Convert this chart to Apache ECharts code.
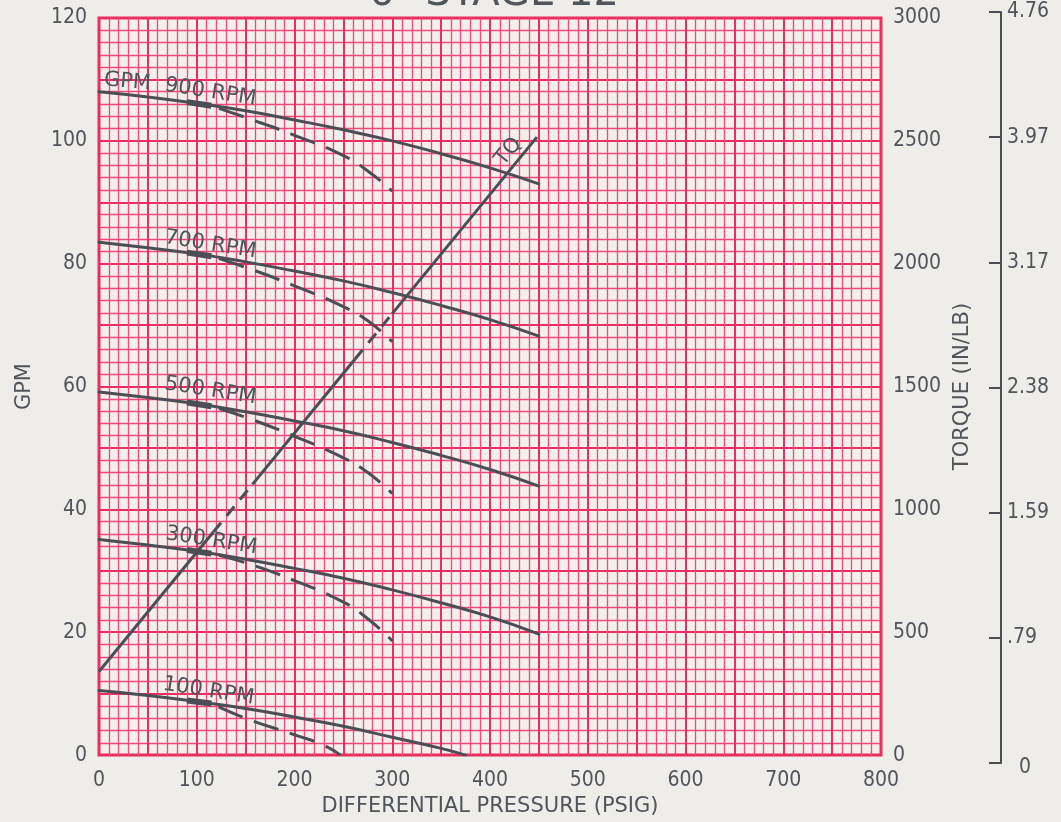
<!DOCTYPE html>
<html>
<head>
<meta charset="utf-8">
<title>6" Stage 12 pump curves</title>
<script src="https://cdn.jsdelivr.net/npm/echarts@6/dist/echarts.min.js"></script>
<style>
  html, body { margin: 0; padding: 0; background: #efedea; }
  #chart { width: 1061px; height: 822px; }
</style>
</head>
<body>
<div id="chart"></div>
<script>
// Differential pressure (PSIG) sample points for the solid GPM curves
const pressure = [0, 50, 100, 150, 200, 250, 300, 350, 400, 450];
const gpm900 = [108.0, 107.15, 106.1, 104.9, 103.4, 101.8, 100.0, 97.9, 95.6, 93.0];
const gpm700 = [83.5, 82.6, 81.6, 80.3, 78.8, 77.2, 75.3, 73.2, 70.9, 68.2];
const gpm500 = [59.1, 58.2, 57.2, 55.9, 54.4, 52.8, 50.9, 48.8, 46.5, 43.8];
const gpm300 = [35.1, 34.2, 33.2, 31.9, 30.4, 28.8, 26.9, 24.8, 22.5, 19.7];
// 100 RPM runs out of flow before 450 PSIG
const pressure100 = [0, 50, 100, 150, 200, 250, 300, 350, 375];
const gpm100 = [10.5, 9.7, 8.7, 7.6, 6.2, 4.7, 2.9, 1.1, 0.0];

// Dashed branches
const dashPressure = [115, 150, 200, 250, 275, 300];
const dash900 = [105.7, 103.8, 100.9, 97.6, 95.1, 91.8];
const dash700 = [81.2, 79.4, 76.4, 73.0, 70.7, 67.3];
const dash500 = [56.8, 55.0, 51.9, 48.4, 46.0, 42.6];
const dash300 = [32.8, 31.3, 28.4, 24.9, 22.2, 18.6];
const dashPressure100 = [115, 150, 200, 230, 247];
const dash100 = [8.4, 6.0, 3.3, 1.6, 0.0];

// Short heavy strokes where the dashed branches leave the solid curves
const heavyPressure = [90, 115];
const heavy900 = [106.3, 105.7];
const heavy700 = [81.8, 81.2];
const heavy500 = [57.4, 56.8];
const heavy300 = [33.4, 32.8];
const heavy100 = [8.9, 8.4];

// Torque line (IN/LB), drawn in pieces: solid / dashed / solid / dashed / solid
const tqPressure = [0, 117, 157, 262, 300, 448];
const tqTorque = [340, 908, 1102, 1612, 1797, 2515];

// Curve labels: [pressure, gpm, text, rotation]
const curveLabels = [
  [29, 109.6, 'GPM', -5],
  [114, 107.9, '900 RPM', -9],
  [114, 83.1, '700 RPM', -9],
  [114, 59.3, '500 RPM', -9],
  [115, 34.9, '300 RPM', -9],
  [112, 10.4, '100 RPM', -9]
];
const tqLabel = [419, 2456, 'TQ', 51];

// Outer scale tick labels
const outerTicks = ['0', '.79', '1.59', '2.38', '3.17', '3.97', '4.76'];
const outerMax = 4.76;

const INK = '#4b4f55';
const PINK = '#ea2f60';
const PINK_MINOR = '#f0497a';
const TICK_FONT = "'DejaVu Sans Condensed', 'DejaVu Sans', sans-serif";
const FONT = "'DejaVu Sans', sans-serif";
const TEXT = '#50555b';

function zip(xs, ys) { return xs.map((x, i) => [x, ys[i]]); }

function solid(xs, ys) {
  return {
    type: 'line', xAxisIndex: 0, yAxisIndex: 0,
    data: zip(xs, ys), showSymbol: false, smooth: 0.5, silent: true,
    lineStyle: { color: INK, width: 3, cap: 'round' }, z: 5
  };
}
function dashed(xs, ys, dash) {
  return {
    type: 'line', xAxisIndex: 0, yAxisIndex: 0,
    data: zip(xs, ys), showSymbol: false, smooth: 0.5, silent: true,
    lineStyle: { color: INK, width: 3, type: dash, dashOffset: -8 }, z: 5
  };
}
function heavy(xs, ys) {
  return {
    type: 'line', xAxisIndex: 0, yAxisIndex: 0,
    data: zip(xs, ys), showSymbol: false, silent: true,
    lineStyle: { color: INK, width: 6 }, z: 6
  };
}

const series = [
  solid(pressure, gpm900), solid(pressure, gpm700), solid(pressure, gpm500),
  solid(pressure, gpm300), solid(pressure100, gpm100),
  dashed(dashPressure, dash900, [26, 12]), dashed(dashPressure, dash700, [26, 12]),
  dashed(dashPressure, dash500, [26, 12]), dashed(dashPressure, dash300, [26, 12]),
  dashed(dashPressure100, dash100, [26, 12]),
  heavy(heavyPressure, heavy900), heavy(heavyPressure, heavy700), heavy(heavyPressure, heavy500),
  heavy(heavyPressure, heavy300), heavy(heavyPressure, heavy100)
];

// torque line pieces
for (let i = 0; i < tqPressure.length - 1; i++) {
  const seg = [[tqPressure[i], tqTorque[i]], [tqPressure[i + 1], tqTorque[i + 1]]];
  series.push({
    type: 'line', xAxisIndex: 0, yAxisIndex: 1, data: seg, showSymbol: false, silent: true,
    lineStyle: { color: INK, width: 3, type: i % 2 === 1 ? [12, 9] : 'solid' }, z: 5
  });
}

function textLabel(text, rot) {
  return { show: true, position: 'inside', formatter: text, rotate: rot,
           fontFamily: FONT, fontSize: 21, color: TEXT, opacity: 1 };
}

// text labels along the curves
series.push({
  type: 'scatter', xAxisIndex: 0, yAxisIndex: 0, symbolSize: 0, silent: true, z: 7,
  itemStyle: { opacity: 1 },
  data: curveLabels.map(l => ({ value: [l[0], l[1]], label: textLabel(l[2], l[3]) }))
});
series.push({
  type: 'scatter', xAxisIndex: 0, yAxisIndex: 1, symbolSize: 0, silent: true, z: 7,
  itemStyle: { opacity: 1 },
  data: [{ value: [tqLabel[0], tqLabel[1]], label: textLabel(tqLabel[2], tqLabel[3]) }]
});

const outerStep = outerMax / 6;

const option = {
  backgroundColor: '#efedea',
  animation: false,
  title: {
    text: '6" STAGE 12',
    left: 364, top: -30,
    textStyle: { fontFamily: FONT, fontSize: 40, fontWeight: 'normal', color: TEXT }
  },
  grid: [
    { left: 99, right: 180, top: 18, bottom: 65, show: true,
      backgroundColor: '#f2efec', borderColor: PINK, borderWidth: 3, containLabel: false },
    { left: 1001, width: 1, top: 12, bottom: 59, show: false }
  ],
  xAxis: [
    { type: 'value', gridIndex: 0, min: 0, max: 800, interval: 50,
      name: 'DIFFERENTIAL PRESSURE (PSIG)', nameLocation: 'middle', nameGap: 37,
      nameTextStyle: { fontFamily: FONT, fontSize: 21, color: TEXT },
      axisLine: { show: false }, axisTick: { show: false },
      axisLabel: { margin: 15, fontFamily: TICK_FONT, fontSize: 21, color: TEXT,
                   formatter: v => (v % 100 === 0 ? String(v) : '') },
      splitLine: { show: true, lineStyle: { color: PINK, width: 2 } },
      minorTick: { show: false, splitNumber: 5 },
      minorSplitLine: { show: true, lineStyle: { color: PINK_MINOR, width: 1.3 } } },
    { type: 'value', gridIndex: 1, show: false, min: 0, max: 1 }
  ],
  yAxis: [
    { type: 'value', gridIndex: 0, min: 0, max: 120, interval: 10,
      name: 'GPM', nameLocation: 'middle', nameGap: 64,
      nameTextStyle: { fontFamily: FONT, fontSize: 21, color: TEXT },
      axisLine: { show: false }, axisTick: { show: false },
      axisLabel: { margin: 12, fontFamily: TICK_FONT, fontSize: 21, color: TEXT,
                   formatter: v => (v % 20 === 0 ? String(v) : '') },
      splitLine: { show: true, lineStyle: { color: PINK, width: 2 } },
      minorTick: { show: false, splitNumber: 5 },
      minorSplitLine: { show: true, lineStyle: { color: PINK_MINOR, width: 1.3 } } },
    { type: 'value', gridIndex: 0, position: 'right', min: 0, max: 3000, interval: 500,
      name: 'TORQUE (IN/LB)', nameLocation: 'middle', nameGap: 66,
      nameTextStyle: { fontFamily: FONT, fontSize: 21, color: TEXT },
      axisLine: { show: false }, axisTick: { show: false }, splitLine: { show: false },
      axisLabel: { margin: 12, fontFamily: TICK_FONT, fontSize: 21, color: TEXT,
                   formatter: v => String(v) } },
    { type: 'value', gridIndex: 1, position: 'right', min: 0, max: outerMax, interval: outerStep,
      axisLine: { show: true, lineStyle: { color: INK, width: 2 } },
      axisTick: { show: true, inside: true, length: 12, lineStyle: { color: INK, width: 2 } },
      splitLine: { show: false },
      axisLabel: { margin: 5, fontFamily: TICK_FONT, fontSize: 21, color: TEXT,
        formatter: v => {
          const i = Math.round(v / outerStep);
          return i === 0 ? '{z|' + outerTicks[0] + '}' : outerTicks[i];
        },
        rich: { z: { fontFamily: TICK_FONT, fontSize: 21, color: TEXT, padding: [10, 0, 0, 12] } } } }
  ],
  series: series
};

const chart = echarts.init(document.getElementById('chart'), null, { renderer: 'canvas' });
chart.setOption(option);
</script>
</body>
</html>
